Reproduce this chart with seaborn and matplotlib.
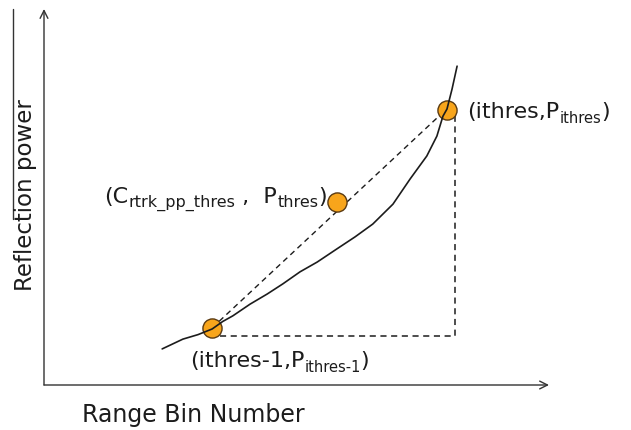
import matplotlib
matplotlib.use("Agg")
import matplotlib.pyplot as plt
import seaborn as sns
from matplotlib.lines import Line2D
from matplotlib.transforms import IdentityTransform

# --- Settings ---
sns.set_style("white")
plt.rcParams["font.family"] = ["DejaVu Sans"]

# --- Data (range bin vs reflection power, arbitrary units) ---
curve_bin = [23.4, 27.5, 30.5, 33.3, 35.4, 37.4, 40.8, 44.2, 47.3, 50.7, 54.1,
             58.0, 61.6, 65.1, 69.1, 72.5, 75.8, 77.8, 79.0, 79.8, 80.8, 81.8]
curve_power = [9.6, 12.2, 13.4, 14.9, 16.9, 18.4, 21.5, 24.2, 26.9, 30.1, 32.7,
               36.2, 39.4, 42.8, 48.1, 54.8, 60.9, 66.2, 71.5, 73.4, 78.7, 84.8]

point_bin = [33.3, 58.0, 79.8]
point_power = [15.2, 48.7, 73.1]

diag_bin = [33.3, 81.0]
diag_power = [15.2, 75.0]
corner_bin = [34.9, 81.4, 81.4]
corner_power = [13.0, 13.0, 72.1]

# label pieces: (text, is_subscript)
label_top = [("(ithres,P", False), ("ithres", True), (")", False)]
label_low = [("(ithres-1,P", False), ("ithres-1", True), (")", False)]
label_mid = [("(C", False), ("rtrk_pp_thres", True), (" ,  P", False),
             ("thres", True), (")", False)]

ink = "#1c1c1c"

fig = plt.figure(figsize=(6.31, 4.31), dpi=100)
ax = fig.add_axes([44 / 631, 45 / 431, 505 / 631, 376 / 431])
ax.set_xlim(0, 100)
ax.set_ylim(0, 100)
for s in ax.spines.values():
    s.set_visible(False)
ax.set_xticks([])
ax.set_yticks([])
renderer = fig.canvas.get_renderer()


def chain_label(x, y, parts, size, sub_size, sub_drop, ha="left"):
    # writes main text and smaller subscripts one after another on a baseline
    x0, y0 = ax.transData.transform((x, y))
    texts = []
    for txt, sub in parts:
        t = ax.text(0, 0, txt, fontsize=sub_size if sub else size, color=ink,
                    va="baseline", ha="left", transform=IdentityTransform())
        texts.append((t, sub))
    widths = [t.get_window_extent(renderer).width for t, _ in texts]
    if ha == "right":
        x0 -= sum(widths)
    for (t, sub), w in zip(texts, widths):
        t.set_position((x0, y0 - (sub_drop if sub else 0)))
        x0 += w


# --- axes with arrows ---
ax.annotate("", xy=(1, 0), xytext=(0, 0), xycoords="axes fraction",
            arrowprops=dict(arrowstyle="->", color="#333333", lw=1.0,
                            shrinkA=0, shrinkB=0, mutation_scale=14))
ax.annotate("", xy=(0, 1), xytext=(0, 0), xycoords="axes fraction",
            arrowprops=dict(arrowstyle="->", color="#333333", lw=1.0,
                            shrinkA=0, shrinkB=0, mutation_scale=14))

# --- dashed guides ---
sns.lineplot(x=diag_bin, y=diag_power, ax=ax, color=ink, lw=1.0,
             linestyle=(0, (4, 3)), estimator=None, sort=False)
sns.lineplot(x=corner_bin, y=corner_power, ax=ax, color=ink, lw=1.1,
             linestyle=(0, (4, 3)), estimator=None, sort=False)

# --- reflection power curve ---
sns.lineplot(x=curve_bin, y=curve_power, ax=ax, color=ink, lw=1.2,
             estimator=None, sort=False, zorder=4)

# --- threshold points ---
sns.scatterplot(x=point_bin, y=point_power, ax=ax, s=190, color="#F8A51B",
                edgecolor="#5a3a12", linewidth=1.0, zorder=3)

chain_label(83.8, 71.3, label_top, 16, 10.5, 5)
chain_label(28.9, 5.0, label_low, 16, 10.5, 5)
chain_label(56.0, 48.7, label_mid, 16, 11.5, 4, ha="right")

# --- axis titles ---
fig.text(26 / 631, 1 - 195 / 431, "Reflection power", rotation=90,
         fontsize=16.5, color=ink, ha="center", va="center")
fig.text(82 / 631, 1 - 415 / 431, "Range Bin Number", fontsize=17,
         color=ink, ha="left", va="center")
fig.add_artist(Line2D([13 / 631, 13 / 631], [1 - 10 / 431, 1 - 220 / 431],
                      color="#333333", lw=1.0))

fig.savefig("out.png", dpi=100)
